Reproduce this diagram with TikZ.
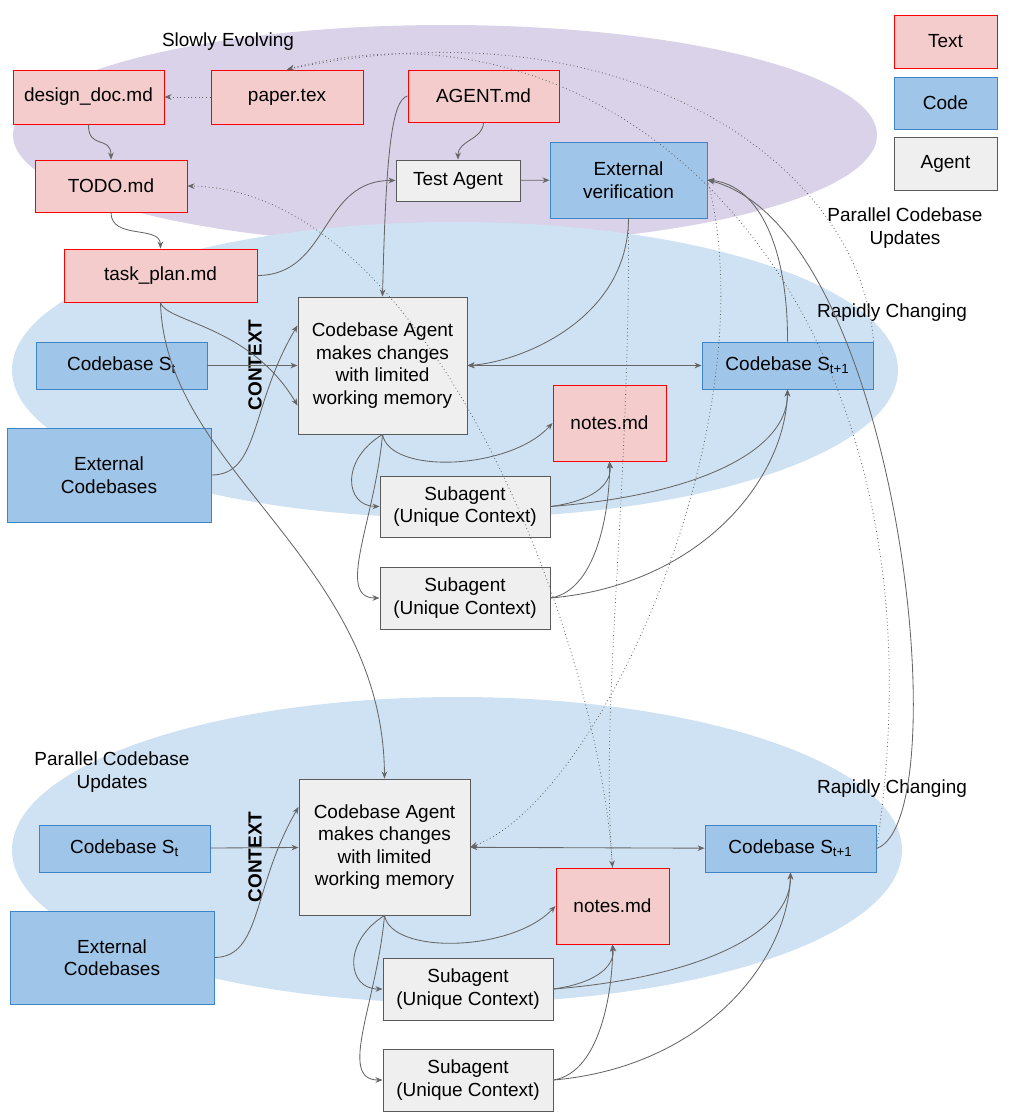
\documentclass[tikz,border=0pt]{standalone}
\usepackage{fontspec}
\setmainfont{Liberation Sans}
\usetikzlibrary{arrows.meta}
\definecolor{textfill}{HTML}{F4CCCC}
\definecolor{codefill}{HTML}{9FC5E8}
\definecolor{codeline}{HTML}{3D85C6}
\definecolor{agentfill}{HTML}{EFEFEF}
\definecolor{agentline}{HTML}{595959}
\definecolor{slowfill}{HTML}{D9D2E9}
\definecolor{rapidfill}{HTML}{CFE2F3}
\definecolor{wire}{HTML}{666666}
\begin{document}
\begin{tikzpicture}[x=0.025cm, y=-0.025cm,
	every node/.style={font=\fontsize{13.5}{16}\selectfont, align=center, inner sep=0pt},
	txt/.style={draw=red, fill=textfill, line width=0.7pt},
	code/.style={draw=codeline, fill=codefill, line width=0.7pt},
	agent/.style={draw=agentline, fill=agentfill, line width=0.7pt},
	link/.style={draw=wire, line width=0.6pt, -{Stealth[length=5pt,width=4pt]}},
	hint/.style={link, dotted}]
	\useasboundingbox (0,0) rectangle (1014,1120);

	% regions
	\fill[slowfill] (445,135) ellipse (432 and 110);
	\fill[rapidfill] (455,370) ellipse (443 and 148);
	\fill[rapidfill] (457,850) ellipse (445 and 153);

	\node (slow) at (228,42) {Slowly Evolving};
	\node (par1) at (905,228) {Parallel Codebase\\Updates};
	\node (rap1) at (892,313) {Rapidly Changing};
	\node (par2) at (112,772) {Parallel Codebase\\Updates};
	\node (rap2) at (892,789) {Rapidly Changing};
	\node[rotate=90, font=\fontsize{13.5}{16}\selectfont\bfseries] (ctx1) at (255,365) {CONTEXT};
	\node[rotate=90, font=\fontsize{13.5}{16}\selectfont\bfseries] (ctx2) at (255,857) {CONTEXT};

	% legend
	\node[txt, minimum width=103*0.025cm, minimum height=53*0.025cm] (keytext) at (945.5,41.5) {Text};
	\node[code, minimum width=103*0.025cm, minimum height=52*0.025cm] (keycode) at (945.5,103) {Code};
	\node[agent, minimum width=103*0.025cm, minimum height=53*0.025cm] (keyagent) at (945.5,163.5) {Agent};

	% slowly evolving files
	\node[txt, minimum width=151*0.025cm, minimum height=54*0.025cm] (design) at (88.5,97) {design\_doc.md};
	\node[txt, minimum width=152*0.025cm, minimum height=54*0.025cm] (paper) at (287,97) {paper.tex};
	\node[txt, minimum width=151*0.025cm, minimum height=52*0.025cm] (agentmd) at (483.5,96) {AGENT.md};
	\node[txt, minimum width=152*0.025cm, minimum height=52*0.025cm] (todo) at (111,186) {TODO.md};
	\node[agent, minimum width=124*0.025cm, minimum height=41*0.025cm] (test) at (458,180.5) {Test Agent};
	\node[code, minimum width=157*0.025cm, minimum height=76*0.025cm] (ext) at (628.5,180) {External\\verification};
	\node[txt, minimum width=193*0.025cm, minimum height=53*0.025cm] (plan) at (160.5,275.5) {task\_plan.md};

	% upper codebase
	\node[agent, minimum width=169*0.025cm, minimum height=137*0.025cm] (cba) at (382.5,365.5) {Codebase Agent\\makes changes\\with limited\\working memory};
	\node[code, minimum width=171*0.025cm, minimum height=47*0.025cm] (st) at (121.5,365.5) {Codebase S\textsubscript{t}};
	\node[code, minimum width=204*0.025cm, minimum height=94*0.025cm] (extcb) at (109,475) {External\\Codebases};
	\node[txt, minimum width=113*0.025cm, minimum height=76*0.025cm] (notes) at (609.5,423) {notes.md};
	\node[code, minimum width=171*0.025cm, minimum height=47*0.025cm] (st1) at (787.5,365.5) {Codebase S\textsubscript{t+1}};
	\node[agent, minimum width=170*0.025cm, minimum height=61*0.025cm] (sub1) at (465,506.5) {Subagent\\(Unique Context)};
	\node[agent, minimum width=170*0.025cm, minimum height=62*0.025cm] (sub2) at (465,598) {Subagent\\(Unique Context)};

	% lower codebase
	\node[agent, minimum width=171*0.025cm, minimum height=136*0.025cm] (bcba) at (384.5,847) {Codebase Agent\\makes changes\\with limited\\working memory};
	\node[code, minimum width=171*0.025cm, minimum height=47*0.025cm] (bst) at (124.5,848.5) {Codebase S\textsubscript{t}};
	\node[code, minimum width=204*0.025cm, minimum height=93*0.025cm] (bextcb) at (112,957.5) {External\\Codebases};
	\node[txt, minimum width=113*0.025cm, minimum height=76*0.025cm] (bnotes) at (612.5,906) {notes.md};
	\node[code, minimum width=171*0.025cm, minimum height=47*0.025cm] (bst1) at (790.5,848.5) {Codebase S\textsubscript{t+1}};
	\node[agent, minimum width=170*0.025cm, minimum height=62*0.025cm] (bsub1) at (468,989) {Subagent\\(Unique Context)};
	\node[agent, minimum width=170*0.025cm, minimum height=62*0.025cm] (bsub2) at (468,1080) {Subagent\\(Unique Context)};

	% planning links
	\draw[hint] (paper) -- (design);
	\draw[link] (design.south) .. controls (88,150) and (111,135) .. (todo.north);
	\draw[link] (todo.south) .. controls (111,240) and (160,225) .. (plan.north);
	\draw[link] (agentmd.south) .. controls (483,140) and (458,140) .. (test.north);
	\draw[link] (agentmd.west) .. controls (392,100) and (386,150) .. (cba.north);
	\draw[link] (plan.east) .. controls (330,275) and (320,180) .. (test.west);
	\draw[link] (test) -- (ext);
	\draw[link] (ext.south) .. controls (628,320) and (520,362) .. (cba.east);
	\draw[link] (plan.south) .. controls (165,322) and (250,325) .. ([yshift=-40*0.025cm]cba.west);
	\draw[link] (plan.south) .. controls (165,470) and (383,560) .. (bcba.north);

	% upper codebase links
	\draw[link] (st) -- (cba);
	\draw[link] (extcb.east) .. controls (260,475) and (250,405) .. ([yshift=40*0.025cm]cba.west);
	\draw[link, {Stealth[length=5pt,width=4pt]}-{Stealth[length=5pt,width=4pt]}] (cba) -- (st1);
	\draw[link] (cba.south) .. controls (390,475) and (510,470) .. (notes.west);
	\draw[link] (cba.south) .. controls (340,460) and (345,506) .. (sub1.west);
	\draw[link] (cba.south) .. controls (375,520) and (335,598) .. (sub2.west);
	\draw[link] (sub1.east) .. controls (600,500) and (612,480) .. (notes.south);
	\draw[link] (sub1.east) .. controls (700,495) and (788,450) .. (st1.south);
	\draw[link] (sub2.east) .. controls (600,590) and (610,500) .. (notes.south);
	\draw[link] (sub2.east) .. controls (700,585) and (785,480) .. (st1.south);
	\draw[link] (st1.north) .. controls (788,250) and (760,185) .. (ext.east);
	\draw[link] (bst1.east) .. controls (960,820) and (900,230) .. (ext.east);

	% lower codebase links
	\draw[link] (bst) -- (bcba);
	\draw[link] (bextcb.east) .. controls (262,957) and (252,887) .. ([yshift=40*0.025cm]bcba.west);
	\draw[link, {Stealth[length=5pt,width=4pt]}-{Stealth[length=5pt,width=4pt]}] (bcba) -- (bst1);
	\draw[link] (bcba.south) .. controls (392,955) and (512,952) .. (bnotes.west);
	\draw[link] (bcba.south) .. controls (342,942) and (347,989) .. (bsub1.west);
	\draw[link] (bcba.south) .. controls (377,1002) and (337,1080) .. (bsub2.west);
	\draw[link] (bsub1.east) .. controls (603,982) and (615,962) .. (bnotes.south);
	\draw[link] (bsub1.east) .. controls (703,977) and (791,932) .. (bst1.south);
	\draw[link] (bsub2.east) .. controls (603,1072) and (613,982) .. (bnotes.south);
	\draw[link] (bsub2.east) .. controls (703,1067) and (788,962) .. (bst1.south);

	% feedback hints
	\draw[hint] (bnotes.north) .. controls (600,640) and (430,190) .. (todo.east);
	\draw[hint] (ext.east) .. controls (770,420) and (600,800) .. (bcba.east);
	\draw[hint] (ext.south) .. controls (630,500) and (600,700) .. (bnotes.north);
	\draw[hint] (bst1.east) .. controls (960,300) and (620,-20) .. (paper.north);
	\draw[hint] (st1.north east) .. controls (860,160) and (620,0) .. (paper.north);
\end{tikzpicture}
\end{document}
